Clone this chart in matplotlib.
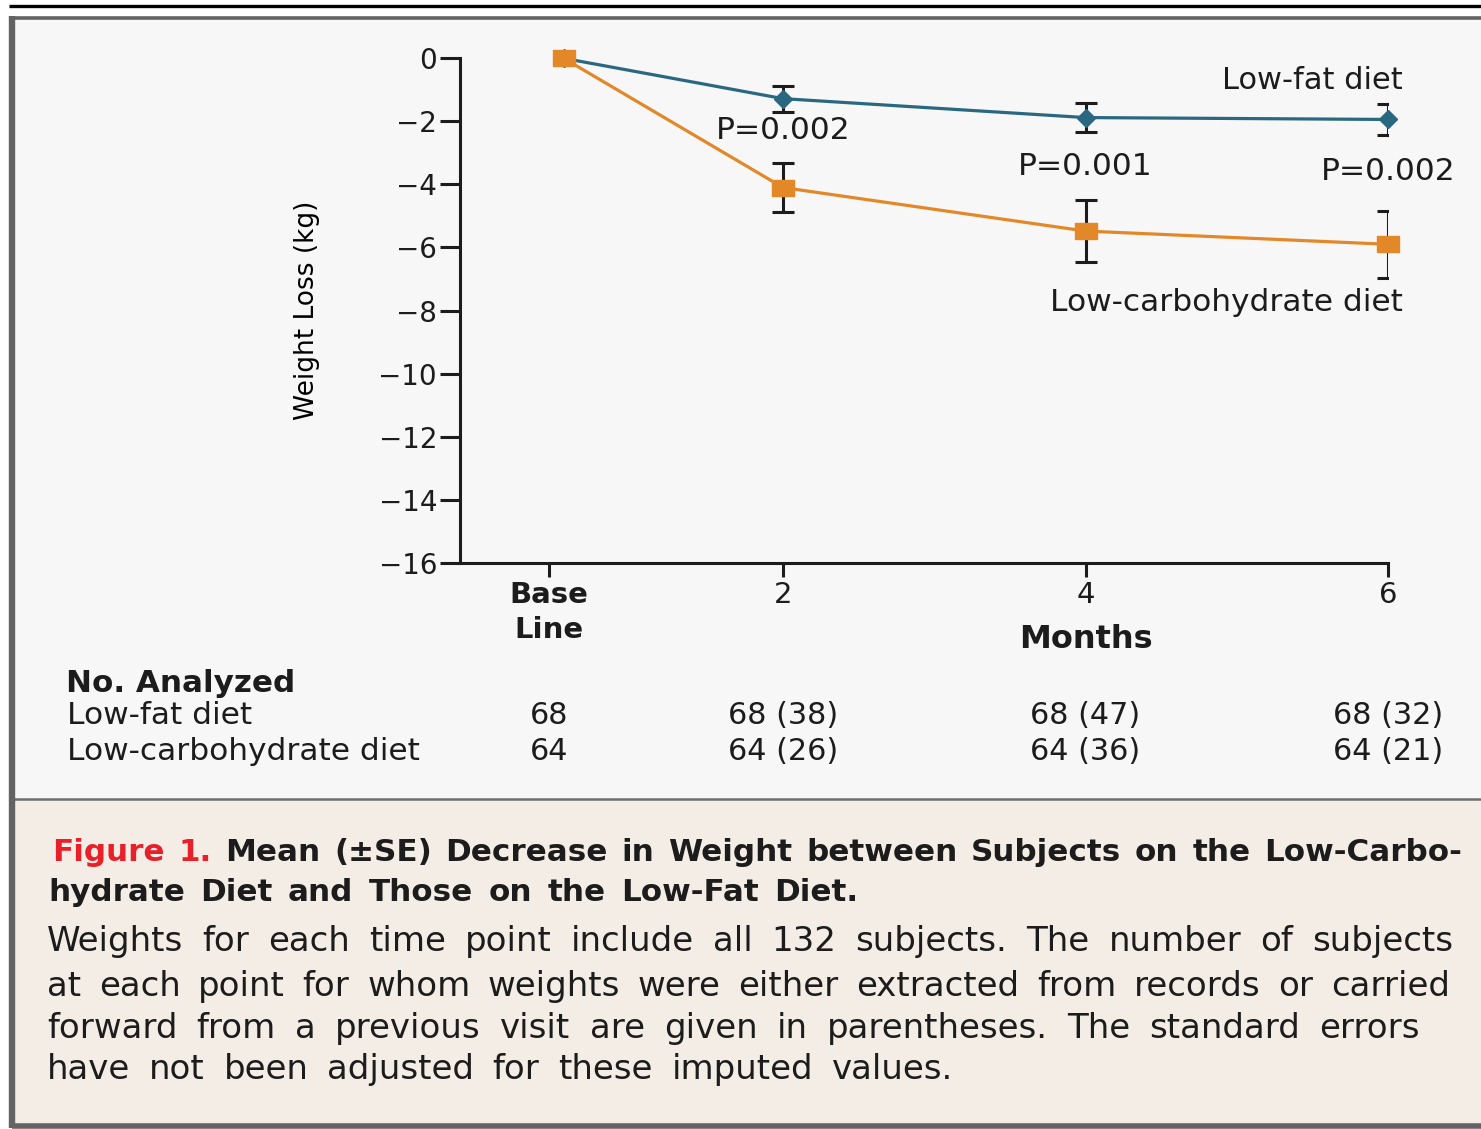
import numpy as np
import matplotlib
matplotlib.use("Agg")
import matplotlib.pyplot as plt
import matplotlib.transforms as mtransforms
from matplotlib import font_manager
from matplotlib.path import Path
from matplotlib.patches import Rectangle

# ---------------------------------------------------------------------------
# Data: mean weight change (kg) and SE at each visit
# ---------------------------------------------------------------------------
visits = [0.55, 2, 4, 6]            # baseline sits just right of the y axis
tick_pos = [0.45, 2, 4, 6]
tick_labels = ["Base\nLine", "2", "4", "6"]

lowfat_mean = [0.0, -1.28, -1.88, -1.94]
lowfat_se = [0.0, 0.41, 0.47, 0.48]
lowcarb_mean = [0.0, -4.10, -5.48, -5.90]
lowcarb_se = [0.0, 0.77, 0.99, 1.06]

p_labels = ["P=0.002", "P=0.001", "P=0.002"]

n_lowfat = ["68", "68 (38)", "68 (47)", "68 (32)"]
n_lowcarb = ["64", "64 (26)", "64 (36)", "64 (21)"]

caption_title = ["Figure 1. Mean (\u00b1SE) Decrease in Weight between Subjects on the Low-Carbo-",
                 "hydrate Diet and Those on the Low-Fat Diet."]
caption_body = [
    "Weights for each time point include all 132 subjects. The number of subjects",
    "at each point for whom weights were either extracted from records or carried",
    "forward from a previous visit are given in parentheses. The standard errors",
    "have not been adjusted for these imputed values.",
]

# ---------------------------------------------------------------------------
W, H, DPI = 1481, 1129, 100
BLUE = "#2a6882"
ORANGE = "#e38828"
RED = "#e8202a"
INK = "#1c1c1c"
FRAME = "#636363"

plt.rcParams.update({
    "font.family": ["DejaVu Sans"],
    "text.color": INK,
    "axes.edgecolor": INK,
    "xtick.color": INK,
    "ytick.color": INK,
})

installed = {f.name for f in font_manager.fontManager.ttflist}
if "Liberation Sans Narrow" in installed:
    ylab_font, ylab_size = "Liberation Sans Narrow", 26
else:
    ylab_font, ylab_size = "DejaVu Sans", 19

fig = plt.figure(figsize=(W / DPI, H / DPI), dpi=DPI)
fig.patch.set_facecolor("white")

# full-figure layer in pixel units for the frame, table and caption
bg = fig.add_axes([0, 0, 1, 1], zorder=0)
bg.set_xlim(0, W)
bg.set_ylim(H, 0)
bg.axis("off")

bg.add_patch(Rectangle((12, 18), W - 12, 781, facecolor="#f7f7f7", edgecolor="none"))
bg.add_patch(Rectangle((12, 799), W - 12, 326, facecolor="#f3ede6", edgecolor="none"))
bg.plot([9, W], [6, 6], color="black", lw=2.4, solid_capstyle="butt")
bg.plot([12, W], [17.5, 17.5], color=FRAME, lw=2.6, solid_capstyle="butt")
bg.plot([12, W], [799, 799], color="#6e6e6e", lw=1.8, solid_capstyle="butt")
bg.plot([12, W], [1125.5, 1125.5], color=FRAME, lw=4.0, solid_capstyle="butt")
bg.plot([12.3, 12.3], [16, 1128], color=FRAME, lw=4.6, solid_capstyle="butt")

# ---------------------------------------------------------------------------
# Chart
# ---------------------------------------------------------------------------
x0, x1, y0, y1 = 460, 1388, 58.3, 562.7
ax = fig.add_axes([x0 / W, 1 - y1 / H, (x1 - x0) / W, (y1 - y0) / H], zorder=2)
ax.patch.set_alpha(0)
ax.set_xlim(-0.136, 6)
ax.set_ylim(-16, 0)
for side in ("top", "right"):
    ax.spines[side].set_visible(False)
for side in ("left", "bottom"):
    ax.spines[side].set_linewidth(2.2)

ax.set_yticks(np.arange(-16, 1, 2))
ax.set_yticklabels([f"\u2212{abs(v)}" if v < 0 else "0" for v in range(-16, 1, 2)])
ax.tick_params(axis="y", length=14.5, width=2.2, pad=2, labelsize=20)
ax.set_xticks(tick_pos)
ax.set_xticklabels(tick_labels, linespacing=1.35)
ax.tick_params(axis="x", length=10, width=2.2, pad=3, labelsize=21)
for lbl in ax.get_xticklabels():
    if "Base" in lbl.get_text():
        lbl.set_fontweight("bold")

# wide rectangular marker for the low-carbohydrate series
rect = Path([(-1.4, -1), (1.4, -1), (1.4, 1), (-1.4, 1), (-1.4, -1)],
            [Path.MOVETO, Path.LINETO, Path.LINETO, Path.LINETO, Path.CLOSEPOLY])

ax.errorbar(visits[1:], lowfat_mean[1:], yerr=lowfat_se[1:], fmt="none",
            ecolor=INK, elinewidth=2.2, capsize=8, capthick=2.2, zorder=3)
ax.errorbar(visits[1:], lowcarb_mean[1:], yerr=lowcarb_se[1:], fmt="none",
            ecolor=INK, elinewidth=2.2, capsize=8, capthick=2.2, zorder=3)
ax.plot(visits, lowfat_mean, color=BLUE, lw=2.3, marker="D", ms=9,
        mec=BLUE, mfc=BLUE, clip_on=False, zorder=4)
ax.plot(visits, lowcarb_mean, color=ORANGE, lw=2.3, marker=rect, ms=16,
        mec=ORANGE, mfc=ORANGE, clip_on=False, zorder=5)

ax.text(6.1, -0.7, "Low-fat diet", ha="right", va="center", fontsize=22)
ax.text(6.1, -7.75, "Low-carbohydrate diet", ha="right", va="center", fontsize=22.5)
for (px, py), lbl in zip([(2, -2.29), (4, -3.42), (6, -3.6)], p_labels):
    ax.text(px, py, lbl, ha="center", va="center", fontsize=22.5)

ax.set_ylabel("Weight Loss (kg)", fontsize=ylab_size, family=ylab_font, labelpad=0)
ax.yaxis.set_label_coords((320 - x0) / (x1 - x0), (y1 - 310) / (y1 - y0))

# month label sits under the 4-month tick
xlab = mtransforms.blended_transform_factory(ax.transData, bg.transData)
ax.text(4, 640, "Months", transform=xlab, ha="center", va="center",
        fontsize=23, fontweight="bold")

# ---------------------------------------------------------------------------
# Numbers analyzed
# ---------------------------------------------------------------------------
bg.text(66, 684, "No. Analyzed", ha="left", va="center", fontsize=22.3, fontweight="bold")
bg.text(67, 716, "Low-fat diet", ha="left", va="center", fontsize=22.5)
bg.text(67, 752, "Low-carbohydrate diet", ha="left", va="center", fontsize=22.5)
for xv, a, b in zip(tick_pos, n_lowfat, n_lowcarb):
    ax.text(xv, 716, a, transform=xlab, ha="center", va="center", fontsize=21.8)
    ax.text(xv, 752, b, transform=xlab, ha="center", va="center", fontsize=21.8)

# ---------------------------------------------------------------------------
# Caption, set word by word so each line fills its measure
# ---------------------------------------------------------------------------
renderer = fig.canvas.get_renderer()


def set_line(x, y, line, width, colors=None, **kw):
    words = line.split(" ")
    colors = colors or [INK] * len(words)
    arts = [bg.text(x, y, w, ha="left", va="baseline", color=c, **kw)
            for w, c in zip(words, colors)]
    sizes = [a.get_window_extent(renderer).width for a in arts]
    gap = (width - sum(sizes)) / max(len(words) - 1, 1)
    cx = x
    for a, s in zip(arts, sizes):
        a.set_x(cx)
        cx += s + gap


title_colors = [RED, RED] + [INK] * 20
set_line(52, 861, caption_title[0], 1410, colors=title_colors, fontsize=22.3, fontweight="bold")
set_line(48, 901, caption_title[1], 810, fontsize=22.3, fontweight="bold")
for yb, wd, line in zip([951, 996, 1038, 1079], [1406, 1403, 1373, 906], caption_body):
    set_line(47, yb, line, wd, fontsize=24.5)

fig.savefig("out.png", dpi=DPI)
